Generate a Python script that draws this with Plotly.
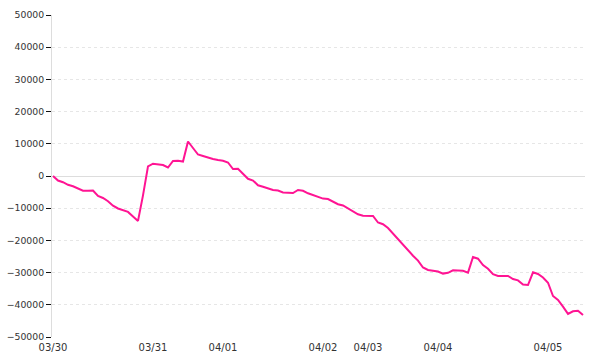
import plotly.graph_objects as go

# Cumulative value, sampled at regular intervals
values = [
    0, -1400, -1930, -2730, -3200, -3820, -4570, -4570, -4500, -6210,
    -6830, -7830, -9220, -10090, -10650, -11150, -12550, -13940, -6000, 3000,
    3820, 3730, 3420, 2640, 4660, 4750, 4500, 10710, 8700, 6680,
    6210, 5680, 5280, 4970, 4720, 4190, 2170, 2270, 840, -870,
    -1400, -2890, -3320, -3880, -4350, -4500, -5090, -5190, -5280, -4350,
    -4600, -5370, -5960, -6610, -7020, -7140, -7920, -8760, -9160, -10090,
    -11020, -11890, -12330, -12330, -12420, -14440, -14970, -16150, -17920, -19750,
    -21300, -23290, -24750, -26270, -28420, -29190, -29500, -29660, -30310, -30060,
    -29280, -29380, -29410, -30000, -25160, -25680, -27640, -28820, -30500, -31020,
    -31120, -31020, -31990, -32420, -33700, -33850, -29900, -30430, -31520, -33140,
    -37270, -38510, -40590, -42830, -42020, -41830, -43170,
]
sample_index = list(range(len(values)))

# First sample of each day and its label
day_start_index = [0, 20, 34, 54, 63, 77, 99]
day_labels = ["03/30", "03/31", "04/01", "04/02", "04/03", "04/04", "04/05"]

y_ticks = list(range(-50000, 50001, 10000))

fig = go.Figure(
    go.Scatter(
        x=sample_index,
        y=values,
        mode="lines",
        line=dict(color="#ff1493", width=2),
        hoverinfo="skip",
    )
)

family = "DejaVu Sans, Verdana, sans-serif"
xfont = dict(family=family, size=10, color="#333333")
yfont = dict(family=family, size=9.3, color="#333333")

fig.update_layout(
    width=600,
    height=360,
    margin=dict(l=52, r=15, t=15, b=23),
    paper_bgcolor="white",
    plot_bgcolor="white",
    showlegend=False,
    font=xfont,
)

fig.update_xaxes(
    range=[-0.2, 106.4],
    tickmode="array",
    tickvals=day_start_index,
    ticktext=day_labels,
    showgrid=False,
    zeroline=False,
    showline=False,
    ticks="",
    ticklabelstandoff=3,
    tickfont=xfont,
    automargin=False,
)

fig.update_yaxes(
    range=[-50000, 50000],
    tickmode="array",
    tickvals=y_ticks,
    showgrid=True,
    gridcolor="#e6e6e6",
    griddash="dot",
    gridwidth=1,
    zeroline=True,
    zerolinecolor="#dddddd",
    zerolinewidth=1,
    showline=True,
    linecolor="#dddddd",
    linewidth=1,
    ticks="outside",
    ticklen=5,
    tickcolor="#111111",
    tickwidth=1,
    ticklabelstandoff=0,
    tickfont=yfont,
    tickformat="d",
    automargin=False,
)

fig.write_html("out.html")
